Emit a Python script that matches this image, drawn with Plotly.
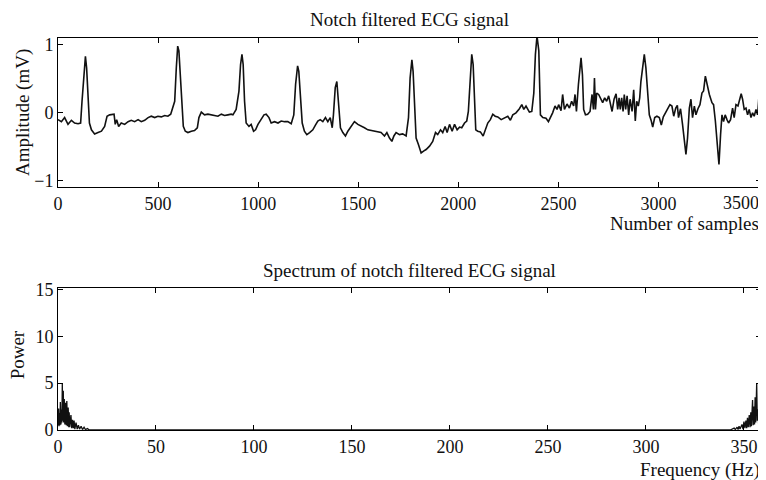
import plotly.graph_objects as go
from plotly.subplots import make_subplots

# ---- ECG signal ----
ecg_sample = [0, 17, 33, 50, 67, 83, 100, 113, 120, 130, 137, 143, 150, 157, 167, 183, 200, 217, 233, 245,
              258, 270, 280, 286, 293, 303, 316, 333, 350, 366, 383, 400, 416, 433, 450, 466, 483, 499, 516, 533,
              549, 563, 574, 583, 591, 598, 604, 611, 618, 626, 636, 649, 666, 682, 696, 704, 716, 732, 749, 766,
              782, 799, 816, 832, 849, 865, 874, 890, 904, 912, 919, 925, 932, 940, 954, 965, 977, 987, 999, 1015,
              1029, 1040, 1054, 1065, 1082, 1099, 1115, 1132, 1148, 1165, 1178, 1187, 1197, 1203, 1212, 1220, 1231, 1243, 1257, 1273,
              1286, 1298, 1310, 1323, 1336, 1348, 1360, 1370, 1376, 1385, 1393, 1401, 1411, 1423, 1436, 1448, 1464, 1481, 1498, 1514,
              1531, 1548, 1564, 1581, 1598, 1614, 1631, 1643, 1656, 1668, 1678, 1689, 1706, 1722, 1739, 1747, 1751, 1759, 1768, 1774,
              1781, 1789, 1801, 1814, 1828, 1839, 1856, 1872, 1886, 1897, 1911, 1922, 1934, 1944, 1956, 1969, 1981, 1994, 2006, 2017,
              2031, 2042, 2050, 2059, 2067, 2074, 2080, 2087, 2097, 2110, 2124, 2134, 2147, 2160, 2172, 2184, 2197, 2214, 2230, 2247,
              2260, 2272, 2288, 2305, 2317, 2327, 2338, 2355, 2367, 2377, 2385, 2393, 2402, 2410, 2422, 2438, 2450, 2460, 2471, 2483,
              2493, 2501, 2513, 2521, 2530, 2543, 2555, 2566, 2576, 2583, 2590, 2600, 2607, 2613, 2620, 2626, 2635, 2646, 2658, 2668,
              2675, 2680, 2685, 2691, 2701, 2711, 2721, 2731, 2741, 2751, 2761, 2768, 2778, 2788, 2796, 2803, 2809, 2816, 2823, 2829,
              2836, 2843, 2851, 2858, 2868, 2876, 2884, 2891, 2899, 2906, 2912, 2921, 2929, 2937, 2946, 2954, 2964, 2971, 2981, 2992,
              3004, 3014, 3024, 3034, 3046, 3057, 3067, 3076, 3086, 3094, 3100, 3110, 3120, 3129, 3137, 3145, 3154, 3162, 3170, 3179,
              3187, 3197, 3207, 3217, 3225, 3234, 3242, 3254, 3267, 3275, 3284, 3292, 3302, 3310, 3317, 3325, 3333, 3342, 3350, 3360,
              3370, 3378, 3387, 3397, 3407, 3413, 3420, 3428, 3437, 3445, 3453, 3462, 3470, 3478, 3487, 3495, 3500, 3507, 3512]
ecg_amp = [-0.10, -0.13, -0.07, -0.17, -0.11, -0.15, -0.16, -0.15, 0.17, 0.66, 0.83, 0.66, 0.17, -0.15, -0.25, -0.31, -0.29, -0.27, -0.20, -0.05,
           -0.03, -0.03, -0.02, -0.17, -0.10, -0.20, -0.15, -0.17, -0.13, -0.11, -0.13, -0.10, -0.13, -0.11, -0.07, -0.05, -0.07, -0.05, -0.06, -0.04,
           -0.05, -0.02, 0.10, 0.17, 0.66, 0.98, 0.91, 0.56, 0.02, -0.20, -0.27, -0.29, -0.27, -0.26, -0.22, -0.07, 0.01, -0.03, -0.02, -0.03,
           -0.03, -0.05, -0.02, -0.04, -0.03, -0.02, -0.03, 0.05, 0.32, 0.71, 0.86, 0.71, 0.17, -0.15, -0.20, -0.17, -0.27, -0.25, -0.17, -0.10,
           -0.03, -0.02, -0.07, -0.15, -0.13, -0.15, -0.12, -0.13, -0.13, -0.16, -0.03, 0.42, 0.69, 0.61, 0.17, -0.15, -0.27, -0.32, -0.29, -0.25,
           -0.18, -0.12, -0.10, -0.13, -0.07, -0.13, -0.07, -0.22, -0.03, 0.37, 0.46, 0.17, -0.22, -0.29, -0.34, -0.27, -0.21, -0.13, -0.17, -0.20,
           -0.22, -0.25, -0.26, -0.27, -0.28, -0.29, -0.34, -0.29, -0.37, -0.42, -0.34, -0.29, -0.32, -0.31, -0.34, -0.17, -0.07, 0.51, 0.78, 0.61,
           0.07, -0.37, -0.47, -0.59, -0.56, -0.54, -0.49, -0.42, -0.29, -0.32, -0.25, -0.29, -0.20, -0.29, -0.17, -0.27, -0.17, -0.25, -0.21, -0.22,
           -0.15, -0.12, 0.02, 0.51, 0.86, 0.71, 0.17, -0.25, -0.27, -0.28, -0.34, -0.25, -0.15, -0.10, -0.02, -0.05, -0.06, -0.10, -0.08, -0.05,
           -0.11, -0.03, 0.00, 0.06, 0.12, 0.05, 0.10, 0.01, 0.02, 0.29, 0.86, 1.13, 0.91, -0.03, -0.07, -0.08, -0.13, -0.07, 0.00, 0.10,
           0.05, 0.12, 0.03, 0.27, 0.05, 0.13, 0.07, 0.17, 0.10, 0.27, 0.02, 0.42, 0.70, 0.81, 0.56, 0.05, -0.03, -0.02, 0.02, 0.27,
           0.05, 0.51, 0.05, 0.29, 0.27, 0.20, 0.15, 0.22, 0.17, 0.25, 0.12, 0.02, 0.20, 0.28, 0.05, 0.22, 0.05, 0.22, 0.02, 0.27,
           0.05, 0.25, -0.03, 0.20, 0.02, 0.34, -0.12, 0.17, 0.10, 0.22, 0.46, 0.66, 0.86, 0.66, 0.27, -0.03, -0.12, -0.21, -0.07, -0.05,
           -0.07, -0.18, -0.06, 0.00, 0.05, 0.12, 0.10, -0.05, 0.07, 0.11, -0.07, 0.06, -0.17, -0.37, -0.61, -0.37, 0.07, 0.20, -0.07, 0.10,
           -0.03, 0.06, 0.12, 0.29, 0.32, 0.54, 0.42, 0.27, 0.15, 0.12, -0.12, -0.37, -0.76, -0.32, -0.03, -0.13, -0.03, -0.10, -0.15, -0.10,
           0.07, -0.07, 0.12, 0.10, 0.20, 0.28, 0.20, 0.05, 0.07, -0.03, 0.05, -0.07, 0.00, -0.05, 0.05, -0.03, 0.17, 0.51, 0.56]

# ---- Spectrum ----
spec_freq = [0.0, 0.3, 0.5, 0.8, 1.0, 1.2, 1.5, 1.8, 2.0, 2.2, 2.4, 2.7, 2.9, 3.2, 3.5, 3.9, 4.2, 4.5, 4.8, 5.2,
             5.5, 5.7, 6.0, 6.6, 7.0, 7.4, 7.8, 8.2, 8.6, 9.2, 9.8, 10.4, 11.0, 11.8, 12.5, 13.3, 14.0, 15.0, 16.0,
             343.0, 345.0, 345.6, 346.5, 347.0, 347.5, 348.0, 349.0, 349.5, 350.0, 350.5, 351.0, 351.4, 351.8, 352.2,
             352.7, 353.1, 353.5, 353.8, 354.4, 354.7, 355.1, 355.4, 355.7, 356.0, 356.5, 356.8, 357.2, 357.5, 357.9,
             358.2, 358.7]
spec_power = [0.5, 2.3, 0.4, 1.8, 0.5, 3.0, 0.6, 2.2, 0.8, 5.0, 1.0, 4.2, 0.8, 3.3, 0.6, 2.9, 0.5, 3.1, 0.4, 2.4,
              0.3, 1.9, 0.3, 1.6, 0.2, 1.1, 0.2, 1.0, 0.1, 0.8, 0.1, 0.5, 0.1, 0.4, 0.05, 0.3, 0.05, 0.15, 0.0,
              0.0, 0.2, 0.05, 0.3, 0.05, 0.4, 0.1, 0.6, 0.1, 0.9, 0.2, 1.0, 0.2, 1.3, 0.3,
              1.6, 0.3, 1.9, 0.4, 3.2, 0.5, 2.5, 0.6, 3.5, 0.8, 5.0, 1.0, 2.2, 0.6, 1.8,
              0.5, 2.3]

top_xticks = [0, 500, 1000, 1500, 2000, 2500, 3000, 3500]
top_xlabels = ["0", "500", "1000", "1500", "2000", "2500", "3000", ""]  # last label placed flush right below
top_last_label = "3500"
top_yticks = [-1, 0, 1]
bot_xticks = [0, 50, 100, 150, 200, 250, 300, 350]
bot_yticks = [0, 5, 10, 15]

FONT = "Liberation Serif"

fig = make_subplots(rows=2, cols=1)
fig.add_trace(go.Scatter(x=ecg_sample, y=ecg_amp, mode="lines",
                         line=dict(color="#111111", width=1.6)), row=1, col=1)
fig.add_trace(go.Scatter(x=spec_freq, y=spec_power, mode="lines",
                         line=dict(color="#111111", width=1.3)), row=2, col=1)

axis_common = dict(showline=True, linecolor="black", linewidth=1, mirror="ticks",
                   ticks="inside", ticklen=5, tickcolor="black", showgrid=False,
                   zeroline=False, automargin=False,
                   tickfont=dict(family=FONT, size=18, color="#111111"))

fig.update_xaxes(**axis_common)
fig.update_yaxes(**axis_common)

fig.update_xaxes(range=[0, 3512], tickvals=top_xticks, ticktext=top_xlabels, domain=[0, 1], row=1, col=1)
fig.update_yaxes(range=[-1.09, 1.1], tickvals=top_yticks, domain=[0.62, 1.0], row=1, col=1)
fig.update_xaxes(range=[0, 358.7], tickvals=bot_xticks, domain=[0, 1], row=2, col=1)
fig.update_yaxes(range=[0, 15.15], tickvals=bot_yticks, domain=[0, 0.362], row=2, col=1)

ann_font = dict(family=FONT, size=19, color="#111111")
annotations = [
    dict(text="Notch filtered ECG signal", x=0.5, y=1.046, xref="paper", yref="paper",
         xanchor="center", yanchor="middle", showarrow=False, font=ann_font),
    dict(text="Number of samples", x=1.0, y=0.528, xref="paper", yref="paper",
         xanchor="right", yanchor="middle", showarrow=False, font=ann_font),
    dict(text="Amplitude (mV)", x=-0.05, y=0.811, xref="paper", yref="paper",
         xanchor="center", yanchor="middle", textangle=-90, showarrow=False, font=ann_font),
    dict(text="Spectrum of notch filtered ECG signal", x=0.5, y=0.408, xref="paper", yref="paper",
         xanchor="center", yanchor="middle", showarrow=False, font=ann_font),
    dict(text="Power", x=-0.058, y=0.191, xref="paper", yref="paper",
         xanchor="center", yanchor="middle", textangle=-90, showarrow=False, font=ann_font),
    dict(text="Frequency (Hz)", x=1.002, y=-0.102, xref="paper", yref="paper",
         xanchor="right", yanchor="middle", showarrow=False, font=ann_font),
    dict(text=top_last_label, x=1.0, y=0.580, xref="paper", yref="paper",
         xanchor="right", yanchor="middle", showarrow=False,
         font=dict(family=FONT, size=18, color="#111111")),
]

# page body has an 8px default margin, so the figure is sized to fit the 766x480 window
fig.update_layout(width=758, height=472, margin=dict(l=50, r=5, t=30, b=50, autoexpand=False),
                  paper_bgcolor="white", plot_bgcolor="white", showlegend=False,
                  annotations=annotations, font=dict(family=FONT, color="#111111"))

fig.write_html("out.html")
